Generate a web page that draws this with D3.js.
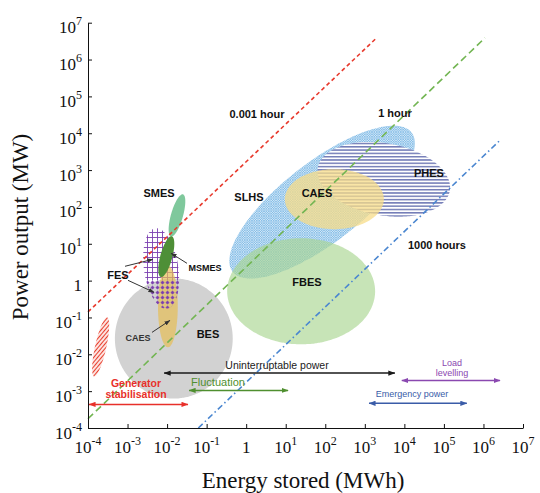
<!DOCTYPE html>
<html><head><meta charset="utf-8">
<script src="https://cdn.jsdelivr.net/npm/d3@7"></script>
<style>body{margin:0;background:#fff}svg{display:block}</style>
</head><body>
<svg id="c" width="540" height="493"></svg>
<script>
// ================= DATA (all in log10 units) =================
const xTickExp = [-4,-3,-2,-1,0,1,2,3,4,5,6,7];   // Energy stored (MWh)
const yTickExp = [-4,-3,-2,-1,0,1,2,3,4,5,6,7];   // Power output (MW)

// technology regions: centre (log10 E, log10 P) and two conjugate semi-axes in decades
const techNames   = ["BES","GEN","SLHS","PHES","CAES","FBES","FES","CAESs","SMES","MSMES"];
const techLabels  = ["BES","","SLHS","PHES","CAES","FBES","FES","CAES","SMES","MSMES"];
const techCenterE = [-1.83,-3.68, 1.92, 3.48, 2.23, 1.39,-2.15,-1.98,-1.75,-2.02];
const techCenterP = [-1.57,-1.80, 2.13, 2.75, 2.21,-0.29, 0.33,-0.70, 1.77, 0.65];
const techAxisU   = [[1.49,0],[0.164,0.802],[2.263,1.889],[1.669,-0.315],[1.252,0],[1.871,0],[-0.15,1.09],[0.25,0],[0.152,0.571],[0.139,0.552]];
const techAxisV   = [[0,1.63],[0.14,-0.03],[0.619,-0.859],[-0.158,-0.965],[0,0.815],[0,1.44],[0.43,0.07],[0,1.11],[0.146,-0.045],[0.147,-0.043]];
const techLabelE  = [-0.966, null, 0.071, 4.622, 1.790, 1.537, -3.241, -2.736, -2.205, -1.042];
const techLabelP  = [-1.459, null, 2.264, 2.916, 2.372, -0.046, 0.144, -1.541, 2.372, 0.334];

// callout pointers (from label to region)
const pointerFromE = [-3.064,-2.989,-1.497,-2.382];
const pointerFromP = [ 0.389, 0.008, 0.470,-1.405];
const pointerToE   = [-2.357,-2.331,-1.901,-1.927];
const pointerToP   = [ 0.579,-0.318, 0.742,-1.079];

// discharge-duration reference lines
const durationLabels = ["0.001 hour","1 hour","1000 hours"];
const durStartE = [-4.00,-4.00,-1.21];
const durStartP = [-0.85,-3.75,-4.00];
const durEndE   = [ 3.30, 6.04, 6.40];
const durEndP   = [ 6.59, 6.59, 3.79];
const durLabelE = [0.273, 3.762, 4.824];
const durLabelP = [4.519, 4.546, 0.959];

// applications (energy ranges)
const appNames  = ["Generator\nstabilisation","Fluctuation","Uninterruptable power","Emergency power","Load\nlevelling"];
const appFromE  = [-4.00,-1.47,-2.10, 3.08, 3.91];
const appToE    = [-1.47, 1.06, 3.76, 5.58, 6.42];
const appLevelP = [-3.36,-2.98,-2.51,-3.33,-2.71];
const appLabelE = [-2.786,-0.713, 0.779, 4.192, 5.204];
const appLabelP = [-2.940,-2.764,-2.302,-3.063,-2.370];

// ================= STYLES =================
const techStyle = {
  BES:  {fill:"#d2d2d2"},
  GEN:  {fill:"url(#hatchRed)"},
  SLHS: {fill:"url(#crossBlue)"},
  PHES: {fill:"url(#stripeNavy)"},
  CAES: {fill:"#f7dc88", opacity:0.75},
  FBES: {fill:"#a9d690", opacity:0.65},
  FES:  {fill:"url(#gridPurple)"},
  CAESs:{fill:"#e6bd55", opacity:0.7},
  SMES: {fill:"#78c597", opacity:0.95},
  MSMES:{fill:"#4e8f37"}
};
const techLabelStyle = {MSMES:{size:9}, CAESs:{size:9, color:"#333"}};
const durStyle = [
  {color:"#e8392c", dash:"4,3"},
  {color:"#72b552", dash:"7,4"},
  {color:"#4a86d0", dash:"6,3,1.5,3"}
];
const appStyle = [
  {color:"#e8302a", size:10.5, bold:true},
  {color:"#4f8f2f", size:11},
  {color:"#1a1a1a", size:10.5},
  {color:"#3a5ca8", size:9},
  {color:"#8a48b0", size:9}
];

// ================= CHART =================
const svg = d3.select("#c");
const x = d3.scaleLog().domain([1e-4,1e7]).range([88,523]);
const y = d3.scaleLog().domain([1e-4,1e7]).range([428,22.7]);
const X = e => x(Math.pow(10,e));
const Y = p => y(Math.pow(10,p));

const defs = svg.append("defs");
// fine crosshatch blue
let p = defs.append("pattern").attr("id","crossBlue").attr("patternUnits","userSpaceOnUse").attr("width",2.4).attr("height",2.4);
p.append("rect").attr("width",2.4).attr("height",2.4).attr("fill","#d9ebf8");
p.append("path").attr("d","M-1,1 L1,-1 M0,2.4 L2.4,0 M1.4,3.4 L3.4,1.4 M-1,1.4 L1,3.4 M0,0 L2.4,2.4 M1.4,-1 L3.4,1")
  .attr("stroke","#4c9edc").attr("stroke-width",0.45);
// horizontal navy stripes
p = defs.append("pattern").attr("id","stripeNavy").attr("patternUnits","userSpaceOnUse").attr("width",6).attr("height",3.3);
p.append("rect").attr("width",6).attr("height",3.3).attr("fill","#fff");
p.append("line").attr("x1",0).attr("x2",6).attr("y1",1.6).attr("y2",1.6).attr("stroke","#3e4b9c").attr("stroke-width",1.1);
// red diagonal hatch
p = defs.append("pattern").attr("id","hatchRed").attr("patternUnits","userSpaceOnUse").attr("width",3).attr("height",3)
  .attr("patternTransform","rotate(40)");
p.append("line").attr("x1",1.5).attr("x2",1.5).attr("y1",0).attr("y2",3).attr("stroke","#e8402e").attr("stroke-width",1.3);
// purple grid
p = defs.append("pattern").attr("id","gridPurple").attr("patternUnits","userSpaceOnUse").attr("width",5).attr("height",5);
p.append("path").attr("d","M2.5,0 V5 M0,2.5 H5").attr("stroke","#7b3fb0").attr("stroke-width",0.9).attr("fill","none");
// purple dots (+faint grid)
p = defs.append("pattern").attr("id","dotPurple").attr("patternUnits","userSpaceOnUse").attr("width",5).attr("height",5);
p.append("path").attr("d","M2.5,0 V5 M0,2.5 H5").attr("stroke","#8a55b8").attr("stroke-width",0.5).attr("fill","none").attr("opacity",0.6);
p.append("circle").attr("cx",2.5).attr("cy",2.5).attr("r",1.5).attr("fill","#7b3fb0");

// clip halves at P = 1 MW for FES rendering
defs.append("clipPath").attr("id","upper").append("rect").attr("x",0).attr("y",0).attr("width",540).attr("height",Y(0));
defs.append("clipPath").attr("id","lower").append("rect").attr("x",0).attr("y",Y(0)).attr("width",540).attr("height",493);

// markers
const markerColors = ["#e8302a","#4f8f2f","#1a1a1a","#3a5ca8","#8a48b0","#333"];
markerColors.forEach((c,i)=>{
  defs.append("marker").attr("id","m"+i).attr("viewBox","0 0 8 6").attr("refX",7.5).attr("refY",3)
    .attr("markerWidth",i===5?6:7).attr("markerHeight",i===5?5:5.5).attr("markerUnits","userSpaceOnUse")
    .attr("orient","auto-start-reverse")
    .append("path").attr("d","M0,0 L8,3 L0,6 Z").attr("fill",c);
});

function ellipsePath(i){
  const pts = d3.range(0,360,3).map(a=>{
    const t = a*Math.PI/180;
    const le = techCenterE[i] + techAxisU[i][0]*Math.cos(t) + techAxisV[i][0]*Math.sin(t);
    const lp = techCenterP[i] + techAxisU[i][1]*Math.cos(t) + techAxisV[i][1]*Math.sin(t);
    return [X(le), Y(lp)];
  });
  return d3.line().curve(d3.curveCardinalClosed.tension(0.5))(pts);
}

const gShapes = svg.append("g");
techNames.forEach((n,i)=>{
  const st = techStyle[n];
  if(n==="FES"){
    gShapes.append("path").attr("d",ellipsePath(i)).attr("fill",st.fill).attr("clip-path","url(#upper)");
    return;
  }
  gShapes.append("path").attr("d",ellipsePath(i)).attr("fill",st.fill).attr("opacity",st.opacity==null?1:st.opacity);
  if(n==="CAESs"){
    const fi = techNames.indexOf("FES");
    gShapes.append("path").attr("d",ellipsePath(fi)).attr("fill","url(#dotPurple)").attr("clip-path","url(#lower)");
  }
});

// duration lines
const gLines = svg.append("g");
durationLabels.forEach((lab,i)=>{
  gLines.append("line")
    .attr("x1",X(durStartE[i])).attr("y1",Y(durStartP[i]))
    .attr("x2",X(durEndE[i])).attr("y2",Y(durEndP[i]))
    .attr("stroke",durStyle[i].color).attr("stroke-width",1.6).attr("stroke-dasharray",durStyle[i].dash);
  gLines.append("text").attr("x",X(durLabelE[i])).attr("y",Y(durLabelP[i])).attr("dy","0.35em")
    .attr("text-anchor","middle").attr("font-family","Liberation Sans, Arial, sans-serif")
    .attr("font-weight","bold").attr("font-size",11).attr("fill","#111").text(lab);
});

// tech labels
techNames.forEach((n,i)=>{
  if(!techLabels[i]) return;
  const ls = techLabelStyle[n] || {};
  svg.append("text").attr("x",X(techLabelE[i])).attr("y",Y(techLabelP[i])).attr("dy","0.35em")
    .attr("text-anchor","middle").attr("font-family","Liberation Sans, Arial, sans-serif")
    .attr("font-weight","bold").attr("font-size",ls.size||11).attr("fill",ls.color||"#111")
    .text(techLabels[i]);
});

// pointers
pointerFromE.forEach((e,i)=>{
  svg.append("line").attr("x1",X(e)).attr("y1",Y(pointerFromP[i]))
    .attr("x2",X(pointerToE[i])).attr("y2",Y(pointerToP[i]))
    .attr("stroke","#333").attr("stroke-width",1).attr("marker-end","url(#m5)");
});

// applications
appNames.forEach((n,i)=>{
  const st = appStyle[i];
  svg.append("line").attr("x1",X(appFromE[i])+1).attr("x2",X(appToE[i]))
    .attr("y1",Y(appLevelP[i])).attr("y2",Y(appLevelP[i]))
    .attr("stroke",st.color).attr("stroke-width",1.5)
    .attr("marker-start","url(#m"+i+")").attr("marker-end","url(#m"+i+")");
  const lines = n.split("\n");
  const lh = st.size*1.05;
  const t = svg.append("text").attr("text-anchor","middle")
    .attr("font-family","Liberation Sans, Arial, sans-serif").attr("font-size",st.size).attr("fill",st.color)
    .attr("font-weight",st.bold?"bold":"normal");
  lines.forEach((l,k)=>{
    t.append("tspan").attr("x",X(appLabelE[i]))
      .attr("y",Y(appLabelP[i]) + (k-(lines.length-1)/2)*lh).attr("dy","0.35em").text(l);
  });
});

// axes
const xAxis = svg.append("g").attr("transform","translate(0,428)")
  .call(d3.axisBottom(x).tickValues(xTickExp.map(e=>Math.pow(10,e))).tickSize(-4).tickSizeOuter(0).tickFormat(""));
const yAxis = svg.append("g").attr("transform","translate(88,0)")
  .call(d3.axisLeft(y).tickValues(yTickExp.map(e=>Math.pow(10,e))).tickSize(-4).tickSizeOuter(0).tickFormat(""));
[xAxis,yAxis].forEach(a=>{a.selectAll("path,line").attr("stroke","#111");});

function expLabel(sel, e){
  if(e===0){ sel.text("1"); return; }
  sel.append("tspan").text("10");
  sel.append("tspan").attr("font-size",12).attr("dy",-8).text(String(e));
}
xTickExp.forEach(e=>{
  const t = svg.append("text").attr("x",X(e)).attr("y",453).attr("text-anchor","middle")
    .attr("font-family","Liberation Serif, Times New Roman, serif").attr("font-size",17).attr("fill","#111");
  expLabel(t,e);
});
yTickExp.forEach(e=>{
  const t = svg.append("text").attr("x",82).attr("y",Y(e)+10.5).attr("text-anchor","end")
    .attr("font-family","Liberation Serif, Times New Roman, serif").attr("font-size",17).attr("fill","#111");
  expLabel(t,e);
});

svg.append("text").attr("x",303).attr("y",488).attr("text-anchor","middle")
  .attr("font-family","Liberation Serif, Times New Roman, serif").attr("font-size",23).attr("fill","#111")
  .text("Energy stored (MWh)");
svg.append("text").attr("transform","translate(28,227) rotate(-90)").attr("text-anchor","middle")
  .attr("font-family","Liberation Serif, Times New Roman, serif").attr("font-size",23).attr("fill","#111")
  .text("Power output (MW)");
</script>
</body></html>
